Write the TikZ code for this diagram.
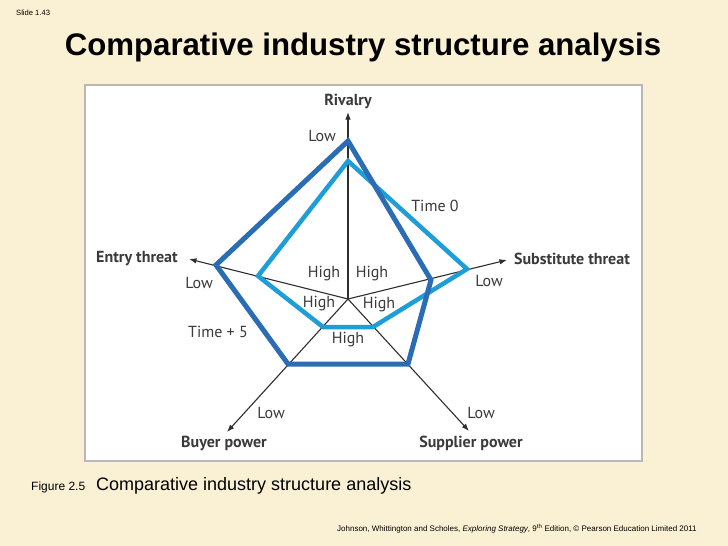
\documentclass[tikz,border=0pt]{standalone}
\usepackage{fontspec}
\setmainfont{Liberation Sans}
\newfontfamily\chartfont{PT Sans}
\usetikzlibrary{arrows.meta}
\definecolor{bgcream}{HTML}{FAF0D3}
\definecolor{panelborder}{HTML}{B8B8B8}
\definecolor{darkblue}{HTML}{2A6DB5}
\definecolor{lightblue}{HTML}{1E9ED8}
\definecolor{axisgray}{HTML}{2E2E2E}
\definecolor{labelgray}{HTML}{3A3A3A}
\tikzset{
  axisline/.style={draw=axisgray, line width=1.1pt, -{Latex[length=7.5pt,width=5.5pt]}},
  timefive/.style={draw=darkblue, line width=5pt, line join=miter},
  timezero/.style={draw=lightblue, line width=4.5pt, line join=miter},
  axislabel/.style={inner sep=0pt, text=labelgray, font=\chartfont\bfseries\fontsize{16}{18}\selectfont},
  smalllabel/.style={inner sep=0pt, text=labelgray, font=\chartfont\fontsize{16}{18}\selectfont},
}
\begin{document}
\begin{tikzpicture}[x=1pt,y=-1pt]
\useasboundingbox (0,0) rectangle (728,546);
\fill[bgcream] (0,0) rectangle (728,546);
\draw[panelborder, fill=white, line width=1.5pt] (85,85) rectangle (642,461);

% axes
\coordinate (c) at (348,299);
\coordinate (rtip) at (348,112);
\coordinate (etip) at (189,259);
\coordinate (stip) at (507,260);
\coordinate (btip) at (227,432);
\coordinate (ptip) at (469,431);
\draw[axisline] (c) -- (rtip);
\draw[axisline] (c) -- (etip);
\draw[axisline] (c) -- (stip);
\draw[axisline] (c) -- (btip);
\draw[axisline] (c) -- (ptip);

% Time 0 polygon
\coordinate (z1) at (348,161);
\coordinate (z2) at (467,269);
\coordinate (z3) at (373,327);
\coordinate (z4) at (323,327);
\coordinate (z5) at (258,276);
\draw[timezero] (z1) -- (z2) -- (z3) -- (z4) -- (z5) -- cycle;

% Time + 5 polygon
\coordinate (f1) at (348,141);
\coordinate (f2) at (431,280);
\coordinate (f3) at (408,364);
\coordinate (f4) at (288,364);
\coordinate (f5) at (216,265);
\draw[timefive] (f1) -- (f2) -- (f3) -- (f4) -- (f5) -- cycle;

% axis labels
\node[axislabel] (lriv) at (348,101) {Rivalry};
\node[axislabel] (lent) at (137,259) {Entry threat};
\node[axislabel] (lsub) at (572,259) {Substitute threat};
\node[axislabel] (lbuy) at (224,443) {Buyer power};
\node[axislabel] (lsup) at (471,443) {Supplier power};

% Low / High labels
\node[smalllabel] (lowr) at (322,136) {Low};
\node[smalllabel] (lowe) at (199,283) {Low};
\node[smalllabel] (lows) at (489,281) {Low};
\node[smalllabel] (lowb) at (271,413) {Low};
\node[smalllabel] (lowp) at (481,413) {Low};
\node[smalllabel] (h1) at (324,274) {High};
\node[smalllabel] (h2) at (372,274) {High};
\node[smalllabel] (h3) at (319,304) {High};
\node[smalllabel] (h4) at (379,305) {High};
\node[smalllabel] (h5) at (348,340) {High};
\node[smalllabel] (t0) at (435,206) {Time 0};
\node[smalllabel] (t5) at (218,332) {Time + 5};

% slide texts
\node[inner sep=0pt, anchor=west, font=\fontsize{7.6}{9}\selectfont] (slide) at (16,13) {Slide 1.43};
\node[inner sep=0pt, font=\bfseries\fontsize{31.2}{35}\selectfont] (title) at (363,47) {Comparative industry structure analysis};
\node[inner sep=0pt, anchor=base west, font=\fontsize{12}{14}\selectfont] (fig) at (31,490) {Figure 2.5};
\node[inner sep=0pt, anchor=base west, font=\fontsize{18}{20}\selectfont] (cap) at (96,490) {Comparative industry structure analysis};
\node[inner sep=0pt, anchor=base west, font=\fontsize{8}{10}\selectfont] (cred) at (337,531) {Johnson, Whittington and Scholes, \textit{Exploring Strategy}, 9\textsuperscript{th} Edition, © Pearson Education Limited 2011};
\end{tikzpicture}
\end{document}
